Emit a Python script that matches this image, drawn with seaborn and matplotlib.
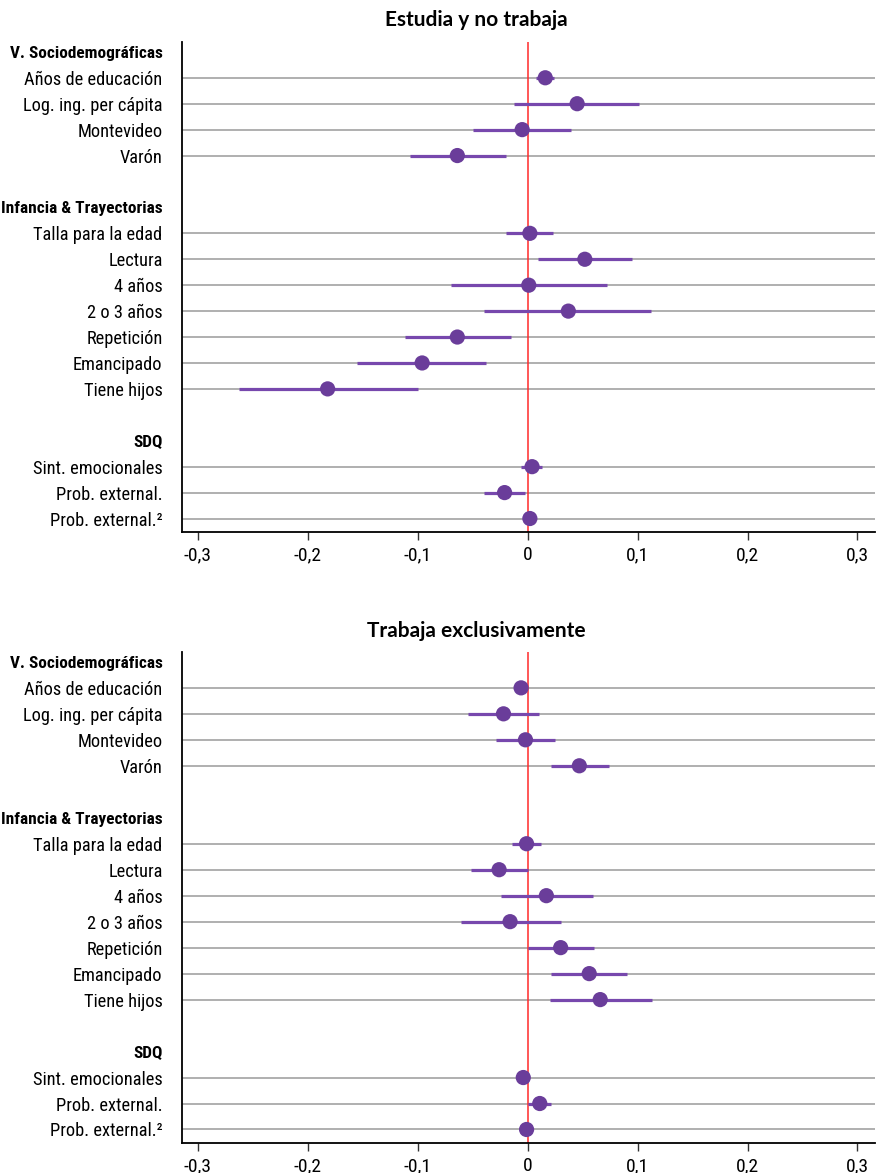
import matplotlib
matplotlib.use("Agg")
import matplotlib.pyplot as plt
import matplotlib.transforms as mtransforms
from matplotlib import font_manager
import seaborn as sns
import pandas as pd
import numpy as np

# ---- data ----
groups = ["V. Sociodemográficas", "Infancia & Trayectorias", "SDQ"]
group_items = [
    ["Años de educación", "Log. ing. per cápita", "Montevideo", "Varón"],
    ["Talla para la edad", "Lectura", "4 años", "2 o 3 años", "Repetición", "Emancipado", "Tiene hijos"],
    ["Sint. emocionales", "Prob. external.", "Prob. external.²"],
]
panel_titles = ["Estudia y no trabaja", "Trabaja exclusivamente"]

est_estudia = [0.016, 0.045, -0.005, -0.064,
               0.002, 0.052, 0.001, 0.037, -0.064, -0.096, -0.182,
               0.004, -0.021, 0.002]
lo_estudia = [0.008, -0.012, -0.050, -0.107,
              -0.020, 0.009, -0.070, -0.040, -0.112, -0.155, -0.263,
              -0.006, -0.040, 0.000]
hi_estudia = [0.024, 0.101, 0.039, -0.020,
              0.023, 0.095, 0.072, 0.112, -0.015, -0.038, -0.100,
              0.013, -0.002, 0.004]

est_trabaja = [-0.006, -0.022, -0.002, 0.047,
               -0.001, -0.026, 0.017, -0.016, 0.030, 0.056, 0.066,
               -0.004, 0.011, -0.001]
lo_trabaja = [-0.008, -0.054, -0.029, 0.021,
              -0.014, -0.052, -0.024, -0.061, 0.000, 0.021, 0.020,
              -0.005, 0.000, -0.002]
hi_trabaja = [-0.004, 0.010, 0.025, 0.074,
              0.012, 0.000, 0.059, 0.030, 0.060, 0.090, 0.113,
              -0.003, 0.021, 0.000]

xticks = [-0.3, -0.2, -0.1, 0.0, 0.1, 0.2, 0.3]
xticklabels = ["-0,3", "-0,2", "-0,1", "0", "0,1", "0,2", "0,3"]

# ---- layout of rows ----
row_labels, row_pos, row_is_header = [], [], []
item_pos, item_names = [], []
r = 0
for gi, (g, items) in enumerate(zip(groups, group_items)):
    if gi > 0:
        r += 1  # blank spacer row
    row_labels.append(g); row_pos.append(r); row_is_header.append(True)
    r += 1
    for it in items:
        row_labels.append(it); row_pos.append(r); row_is_header.append(False)
        item_pos.append(r); item_names.append(it)
        r += 1

sns.set_theme(style="white")


def available(name):
    try:
        font_manager.findfont(font_manager.FontProperties(family=name), fallback_to_default=False)
        return True
    except Exception:
        return False


candidates = ["Roboto Condensed", "Liberation Sans Narrow", "Open Sans Condensed", "Roboto", "Liberation Sans"]
main_font = next((c for c in candidates if available(c)), "DejaVu Sans")
font_list = [main_font, "DejaVu Sans"]
plt.rcParams["font.family"] = font_list
plt.rcParams["text.color"] = "black"
plt.rcParams["xtick.color"] = "black"
plt.rcParams["ytick.color"] = "black"

purple = "#6a3d9a"
ci_color = "#7748ad"

fig = plt.figure(figsize=(8.76, 11.73), dpi=100)
ax_rects = [
    [182 / 876, 1 - 532 / 1173, 693 / 876, (532 - 42) / 1173],
    [182 / 876, 1 - 1143 / 1173, 693 / 876, (1143 - 652) / 1173],
]
title_y = [1 - 20 / 1173, 1 - 631 / 1173]
panels = [(est_estudia, lo_estudia, hi_estudia), (est_trabaja, lo_trabaja, hi_trabaja)]

label_fs = 14.0
axes = []
for pi, (est, lo, hi) in enumerate(panels):
    ax = fig.add_axes(ax_rects[pi])
    axes.append(ax)
    df = pd.DataFrame({"name": item_names, "pos": item_pos, "est": est, "lo": lo, "hi": hi})

    for p in item_pos:
        ax.axhline(p, color="#9a9a9a", lw=1.1, zorder=1)
    ax.axvline(0, color="#ff2a2a", lw=1.1, zorder=2)
    ax.hlines(df["pos"], df["lo"], df["hi"], color=ci_color, lw=2.3, zorder=3)
    sns.scatterplot(data=df, x="est", y="pos", ax=ax, color=purple, s=120,
                    edgecolor="none", zorder=4, legend=False)

    ax.set_xlim(-0.3145, 0.316)
    ax.set_ylim(18.52, -0.38)
    ax.set_xlabel("")
    ax.set_ylabel("")
    ax.set_xticks(xticks)
    ax.set_xticklabels(xticklabels, fontsize=14)
    ax.set_yticks(row_pos)
    ax.set_yticklabels(row_labels, fontsize=label_fs)
    for lab, hdr in zip(ax.get_yticklabels(), row_is_header):
        if hdr:
            lab.set_fontweight("bold")
        lab.set_transform(lab.get_transform() + mtransforms.ScaledTranslation(0, 3 / 72, fig.dpi_scale_trans))
    ax.tick_params(axis="y", length=0, pad=14)
    ax.tick_params(axis="x", length=6, width=1, color="#333333", pad=4, direction="out", bottom=True)
    for s in ["top", "right"]:
        ax.spines[s].set_visible(False)
    for s in ["left", "bottom"]:
        ax.spines[s].set_color("black")
        ax.spines[s].set_linewidth(1.3)

    fig.text(476 / 876, title_y[pi], panel_titles[pi], ha="center", va="center",
             fontsize=15, fontweight="bold", color="black", family=["Lato", "DejaVu Sans"])

# fit headers and items separately into the space left of the axes
fig.canvas.draw()
renderer = fig.canvas.get_renderer()
for is_hdr, avail in [(True, 162.0), (False, 140.0)]:
    labs = [l for ax in axes for l, h in zip(ax.get_yticklabels(), row_is_header) if h == is_hdr]
    maxw = max(l.get_window_extent(renderer).width for l in labs)
    if maxw > avail:
        new_fs = label_fs * avail / maxw
        for l in labs:
            l.set_fontsize(new_fs)

fig.savefig("out.png", dpi=100)
